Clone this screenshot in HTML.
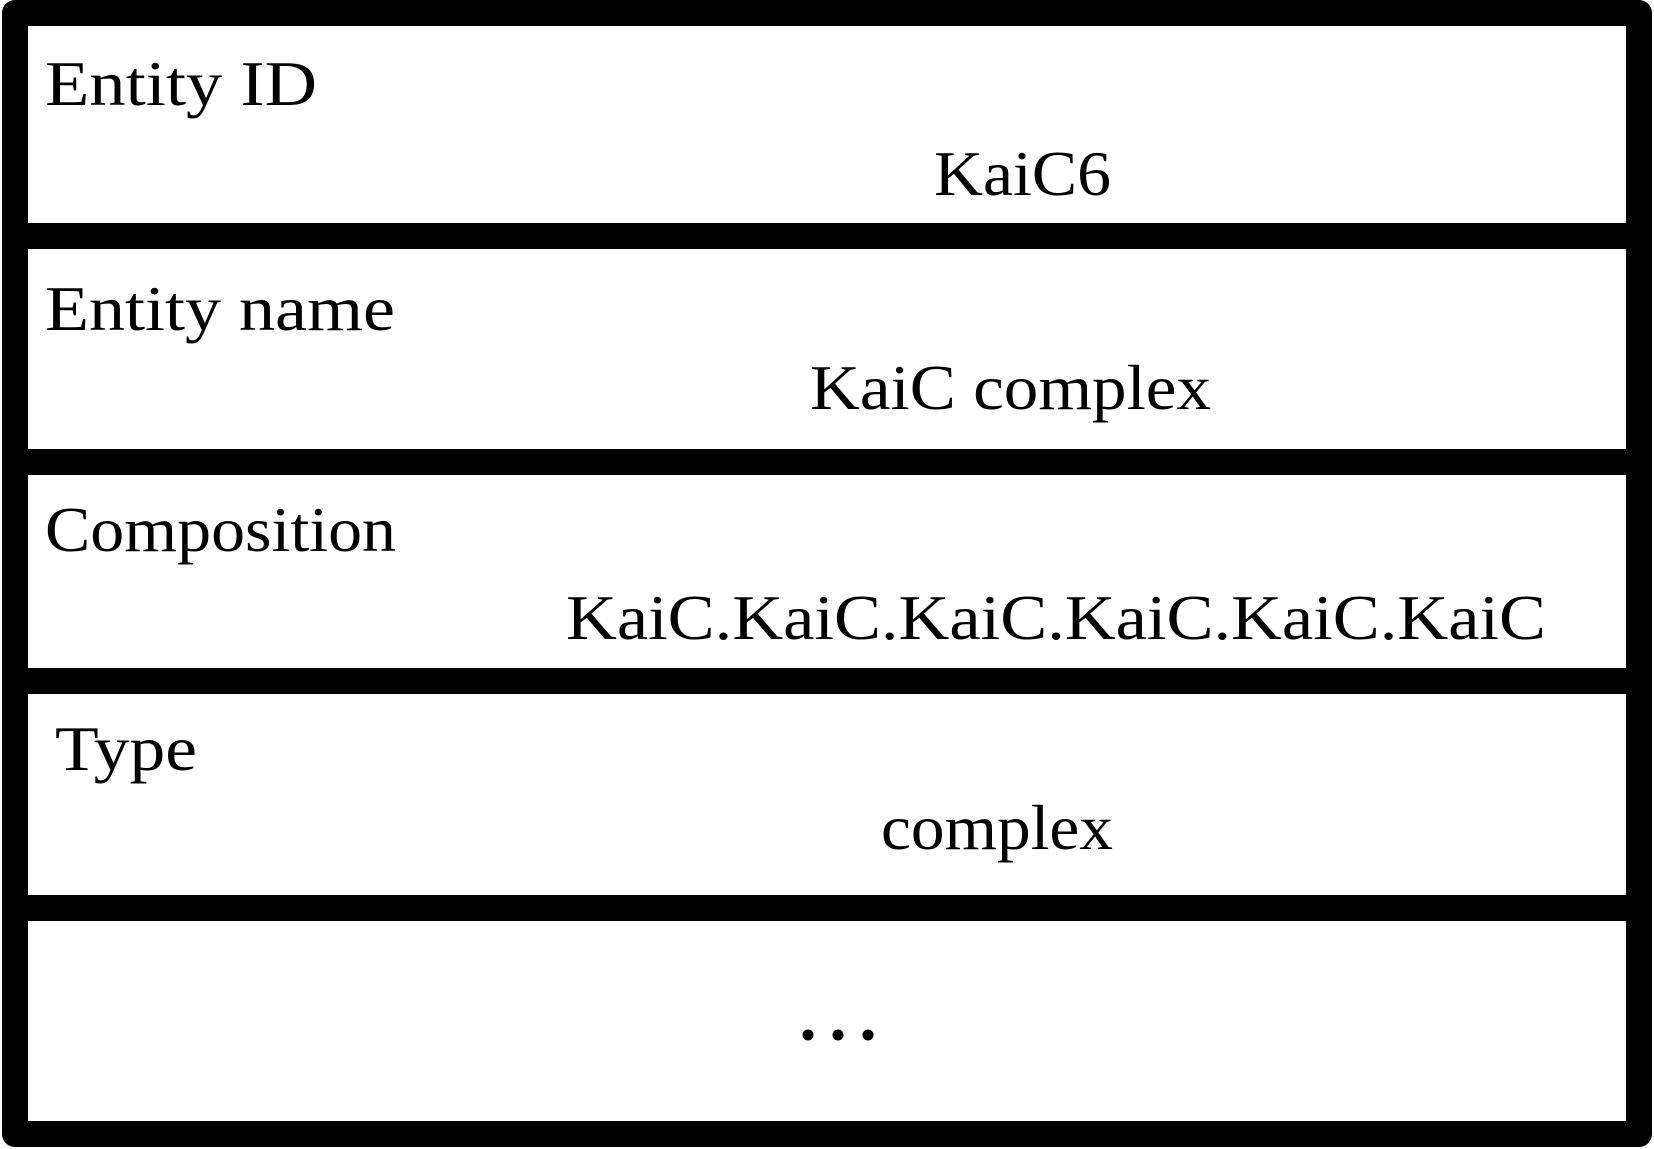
<!DOCTYPE html>
<html><head><meta charset="utf-8"><style>
html,body{margin:0;padding:0;background:#fff;}
svg{display:block;}
text{font-family:"Liberation Serif",serif;font-size:64px;fill:#000;}
</style></head><body>
<svg width="1654" height="1149" viewBox="0 0 1654 1149">
<g fill="none" stroke="#000" stroke-width="26" stroke-linejoin="round">
<rect x="15" y="13" width="1624" height="223"/>
<rect x="15" y="236" width="1624" height="226"/>
<rect x="15" y="462" width="1624" height="219"/>
<rect x="15" y="681" width="1624" height="227"/>
<rect x="15" y="908" width="1624" height="226"/>
</g>
<text x="45" y="105" textLength="272" lengthAdjust="spacingAndGlyphs">Entity ID</text>
<text x="934" y="195" textLength="177" lengthAdjust="spacingAndGlyphs">KaiC6</text>
<text x="45" y="330" textLength="350" lengthAdjust="spacingAndGlyphs">Entity name</text>
<text x="810" y="409" textLength="401" lengthAdjust="spacingAndGlyphs">KaiC complex</text>
<text x="45" y="551" textLength="351" lengthAdjust="spacingAndGlyphs">Composition</text>
<text x="566" y="639" textLength="980" lengthAdjust="spacingAndGlyphs">KaiC.KaiC.KaiC.KaiC.KaiC.KaiC</text>
<text x="55" y="770" textLength="142" lengthAdjust="spacingAndGlyphs">Type</text>
<text x="881" y="849" textLength="232" lengthAdjust="spacingAndGlyphs">complex</text>
<circle cx="808" cy="1035" r="5.5" fill="#000"/>
<circle cx="838" cy="1035" r="5.5" fill="#000"/>
<circle cx="868" cy="1035" r="5.5" fill="#000"/>
</svg>
</body></html>
